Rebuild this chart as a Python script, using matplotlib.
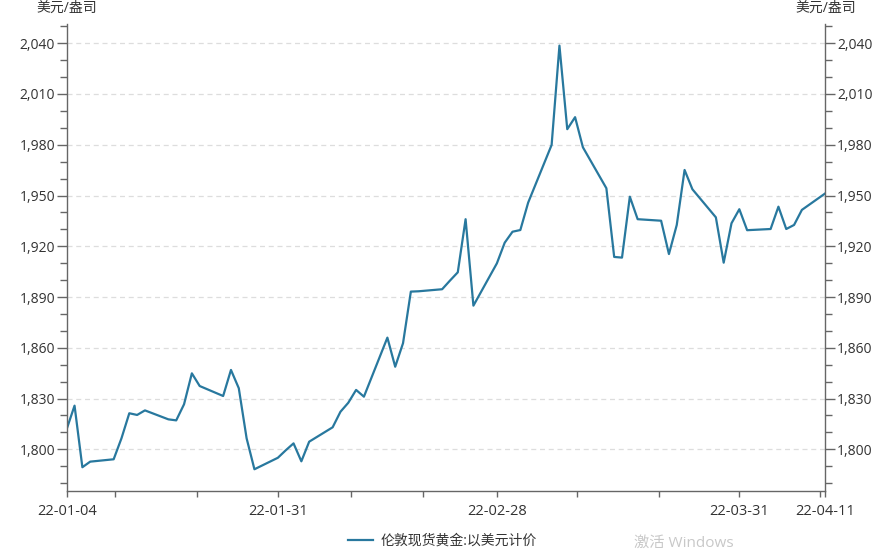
import pandas as pd
import matplotlib
matplotlib.use("Agg")
import matplotlib.pyplot as plt
import matplotlib.dates as mdates
from matplotlib.ticker import FuncFormatter, MultipleLocator

plt.rcParams['font.family'] = ['Open Sans', 'Noto Sans CJK SC', 'DejaVu Sans']

# trading days (2022)
jan_days = [4, 5, 6, 7, 10, 11, 12, 13, 14, 17, 18, 19, 20, 21, 24, 25, 26, 27, 28, 31]
feb_days = [1, 2, 3, 4, 7, 8, 9, 10, 11, 14, 15, 16, 17, 18, 21, 22, 23, 24, 25, 28]
mar_days = [1, 2, 3, 4, 7, 8, 9, 10, 11, 14, 15, 16, 17, 18, 21, 22, 23, 24, 25, 28, 29, 30, 31]
apr_days = [1, 4, 5, 6, 7, 8, 11]

jan_vals = [1812.0, 1825.8, 1789.4, 1792.7, 1794.1, 1806.5, 1821.3, 1820.3, 1823.0, 1817.7,
            1817.1, 1826.6, 1844.9, 1837.4, 1831.5, 1846.9, 1836.1, 1806.5, 1788.2, 1795.0]
feb_vals = [1799.4, 1803.5, 1792.9, 1804.5, 1813.0, 1822.2, 1827.5, 1835.1, 1831.1, 1866.0,
            1848.8, 1862.7, 1893.2, 1893.4, 1894.6, 1899.7, 1904.6, 1936.0, 1884.9, 1909.9]
mar_vals = [1922.1, 1928.6, 1929.6, 1945.8, 1979.9, 2038.6, 1989.2, 1996.3, 1978.5, 1954.3,
            1913.7, 1913.3, 1949.3, 1936.0, 1935.1, 1915.4, 1932.6, 1965.1, 1953.7, 1937.1,
            1910.3, 1933.6, 1941.9]
apr_vals = [1929.5, 1930.2, 1943.4, 1930.2, 1932.6, 1941.5, 1951.3]

series_name = '伦敦现货黄金:以美元计价'
unit_label = '美元/盎司'
label_dates = ['2022-01-04', '2022-01-31', '2022-02-28', '2022-03-31', '2022-04-11']

dates = ([pd.Timestamp(2022, 1, d) for d in jan_days] +
         [pd.Timestamp(2022, 2, d) for d in feb_days] +
         [pd.Timestamp(2022, 3, d) for d in mar_days] +
         [pd.Timestamp(2022, 4, d) for d in apr_days])
values = jan_vals + feb_vals + mar_vals + apr_vals

fig = plt.figure(figsize=(8.85, 5.52), dpi=100)
ax = fig.add_axes([0.0754, 0.1105, 0.8572, 0.8455])

ax.plot(dates, values, color='#28789e', linewidth=1.6, label=series_name)

ax.set_xlim(pd.Timestamp('2022-01-04'), pd.Timestamp('2022-04-11'))
ax.set_ylim(1775.35, 2051.2)

# y axis, same scale on both sides
ax.set_yticks([1800, 1830, 1860, 1890, 1920, 1950, 1980, 2010, 2040])
ax.yaxis.set_minor_locator(MultipleLocator(10))
ax.yaxis.set_major_formatter(FuncFormatter(lambda v, p: '{:,.0f}'.format(v)))
ax.tick_params(axis='y', which='both', left=True, right=True, labelleft=True, labelright=True,
               direction='out', colors='#666666', labelcolor='#333333', labelsize=10, width=1)
ax.tick_params(axis='y', which='major', length=7.2, pad=1.2)
ax.tick_params(axis='y', which='minor', length=4.8)

# x axis
ax.set_xticks([mdates.date2num(pd.Timestamp(d)) for d in label_dates])
ax.set_xticklabels([pd.Timestamp(d).strftime('%y-%m-%d') for d in label_dates])
minor_x = ['2022-01-10 05:00', '2022-01-20 15:00', '2022-02-09 08:00', '2022-02-18 14:00',
           '2022-03-10 07:00', '2022-03-20 16:00', '2022-04-10 08:00']
ax.set_xticks([mdates.date2num(pd.Timestamp(d)) for d in minor_x], minor=True)
ax.tick_params(axis='x', which='both', direction='out', length=4.2, width=1,
               colors='#666666', labelcolor='#333333', labelsize=10.5, pad=5)

ax.grid(axis='y', which='major', color='#dddddd', linestyle=(0, (4, 3)), linewidth=0.9)
ax.set_axisbelow(True)

for s in ['left', 'right', 'bottom']:
    ax.spines[s].set_color('#666666')
    ax.spines[s].set_linewidth(1)
ax.spines['top'].set_visible(False)

fig.text(0.0754, 0.999, unit_label, ha='center', va='top', fontsize=10, color='#333333')
fig.text(0.9326, 0.999, unit_label, ha='center', va='top', fontsize=10, color='#333333')

fig.legend(loc='center', bbox_to_anchor=(0.5, 0.02), frameon=False, fontsize=10,
           handlelength=1.8, handletextpad=0.5, labelcolor='#333333')

fig.text(0.716, 0.002, '激活 Windows', ha='left', va='bottom', fontsize=11, color='#c8c8c8')

fig.savefig('out.png', dpi=100)
